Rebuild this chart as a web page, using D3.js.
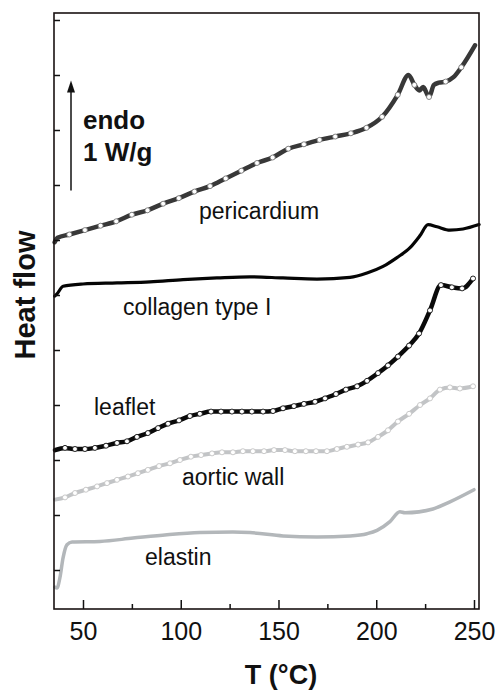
<!DOCTYPE html>
<html>
<head>
<meta charset="utf-8">
<script src="https://cdn.jsdelivr.net/npm/d3@7"></script>
<style>
  body { margin: 0; background: #fff; }
  svg text { font-family: "Liberation Sans", Arial, sans-serif; fill: #111; }
</style>
</head>
<body>
<div id="the_chart"></div>
<script>
// temperature axis (°C)
var tempTicks = [50, 100, 150, 200, 250];
var tempMinorTicks = [75, 125, 175, 225];
// heat flow axis (W/g, offset curves, unlabelled ticks)
var heatTicks = [0.5, 1, 1.5, 2, 2.5, 3, 3.5, 4, 4.5, 5, 5.5];

// [T, heat flow]
var pericardium = [
  [35.5, 3.48], [37, 3.52], [43, 3.55], [51, 3.59], [59, 3.63], [67, 3.67], [75, 3.73],
  [83, 3.77], [91, 3.83], [99, 3.88], [107, 3.94], [115, 3.99], [123, 4.06], [131, 4.13],
  [139, 4.20], [147, 4.25], [155, 4.33], [163, 4.37], [171, 4.41], [179, 4.44], [187, 4.47],
  [195, 4.52], [203, 4.62], [211, 4.82], [216.5, 5.00], [219.5, 4.91], [222, 4.86],
  [224, 4.89], [227, 4.80], [229.5, 4.91], [232, 4.93], [235.5, 4.94], [239.5, 4.98],
  [243.5, 5.07], [250.5, 5.27]
];
var pericardiumMarks = [43, 51, 59, 67, 75, 83, 91, 99, 107, 115, 123, 131, 139, 147, 155,
  163, 171, 179, 187, 195, 203, 211, 219.5, 227, 235.5, 243.5];

var collagen = [
  [35.5, 2.99], [36.7, 3.01], [39.8, 3.08], [50, 3.10], [67.4, 3.11], [84.3, 3.12],
  [101.2, 3.14], [118.5, 3.155], [135.4, 3.165], [152.3, 3.155], [169.7, 3.145],
  [186.6, 3.16], [195.3, 3.20], [203.5, 3.26], [210.6, 3.34], [217.3, 3.43], [222.4, 3.54],
  [226.5, 3.64], [231.1, 3.62], [237.7, 3.59], [244.4, 3.60], [252.6, 3.64]
];

var leaflet = [
  [35.7, 1.59], [40.8, 1.61], [45.9, 1.60], [51.0, 1.60], [56.1, 1.61], [61.8, 1.63],
  [67.4, 1.655], [72.5, 1.67], [77.6, 1.71], [83.2, 1.745], [88.4, 1.79], [93.5, 1.83],
  [99.1, 1.86], [104.7, 1.90], [109.8, 1.92], [115.5, 1.94], [120.6, 1.94], [126.2, 1.94],
  [131.3, 1.94], [136.4, 1.94], [142.1, 1.94], [147.2, 1.945], [152.3, 1.97], [157.9, 1.99],
  [163.0, 2.01], [168.7, 2.03], [173.8, 2.06], [179.4, 2.10], [184.5, 2.14], [190.2, 2.17],
  [195.3, 2.22], [200.9, 2.29], [206.0, 2.36], [211.1, 2.44], [216.8, 2.54], [221.9, 2.65],
  [227.5, 2.86], [233.1, 3.09], [238.7, 3.07], [243.9, 3.06], [249.5, 3.15]
];

var aorticWall = [
  [35.7, 1.14], [40.8, 1.16], [45.9, 1.20], [51.5, 1.23], [57.2, 1.26], [62.3, 1.29],
  [67.4, 1.32], [73.0, 1.35], [78.1, 1.38], [83.2, 1.41], [88.9, 1.445], [94.5, 1.47],
  [99.6, 1.50], [105.2, 1.53], [110.4, 1.545], [116.0, 1.56], [121.1, 1.57], [126.7, 1.57],
  [131.8, 1.58], [136.9, 1.58], [142.6, 1.58], [147.7, 1.59], [153.3, 1.59], [158.4, 1.58],
  [164.0, 1.58], [169.2, 1.58], [174.8, 1.58], [179.9, 1.60], [185.0, 1.62], [190.7, 1.64],
  [195.8, 1.66], [200.9, 1.71], [206.0, 1.77], [211.1, 1.85], [216.8, 1.92], [222.4, 2.00],
  [227.5, 2.06], [232.6, 2.14], [237.7, 2.16], [242.8, 2.15], [249.5, 2.17]
];

var elastin = [
  [35.7, 0.345], [36.7, 0.336], [38.2, 0.43], [39.8, 0.61], [41.8, 0.73], [44.4, 0.755],
  [58.7, 0.76], [75.6, 0.79], [93.0, 0.82], [109.8, 0.84], [126.7, 0.845], [135.4, 0.84],
  [152.3, 0.81], [169.7, 0.80], [186.6, 0.81], [195.3, 0.83], [200.4, 0.86], [207.0, 0.94],
  [212.1, 1.03], [214.7, 1.02], [229.0, 1.055], [237.7, 1.12], [250.0, 1.23]
];

var curveLabels = ["pericardium", "collagen type I", "leaflet", "aortic wall", "elastin"];

var w = 500;
var h = 691;
var padL = 54, padR = 479, padT = 13, padB = 609;

var svg = d3.select("#the_chart")
  .append("svg")
  .attr("width", w)
  .attr("height", h);

var xscale = d3.scaleLinear()
  .domain([35.17, 252.56])
  .range([padL, padR]);

var yscale = d3.scaleLinear()
  .domain([0.1455, 5.5636])
  .range([padB, padT]);

var line = d3.line()
  .x(function(d) { return xscale(d[0]); })
  .y(function(d) { return yscale(d[1]); })
  .curve(d3.curveMonotoneX);

// curves, bottom to top
var series = [
  { data: elastin, color: "#b3b7ba", width: 3.5, marks: [] },
  { data: aorticWall, color: "#c2c4c6", width: 4, marks: aorticWall.slice(1).map(function(d) { return d[0]; }), markStroke: "#c4c4c4" },
  { data: leaflet, color: "#0a0a0a", width: 4.5, marks: leaflet.slice(1).map(function(d) { return d[0]; }), markStroke: "#111" },
  { data: collagen, color: "#050505", width: 3.2, marks: [] },
  { data: pericardium, color: "#383838", width: 4.5, marks: pericardiumMarks, markStroke: "#7a7a7a" }
];

series.forEach(function(s) {
  svg.append("path")
    .datum(s.data)
    .attr("fill", "none")
    .attr("stroke", s.color)
    .attr("stroke-width", s.width)
    .attr("stroke-linejoin", "round")
    .attr("stroke-linecap", "round")
    .attr("d", line);

  svg.selectAll(null)
    .data(s.data.filter(function(d) { return s.marks.indexOf(d[0]) >= 0; }))
    .enter().append("circle")
    .attr("cx", function(d) { return xscale(d[0]); })
    .attr("cy", function(d) { return yscale(d[1]); })
    .attr("r", 2.5)
    .attr("fill", "#fff")
    .attr("stroke", s.markStroke)
    .attr("stroke-width", 0.9);
});

// axes
var xaxis = d3.axisBottom(xscale)
  .tickValues(tempTicks)
  .tickSize(-9)
  .tickPadding(13)
  .tickFormat(d3.format("d"));

var xminor = d3.axisBottom(xscale)
  .tickValues(tempMinorTicks)
  .tickSize(-5)
  .tickFormat("");

var yaxis = d3.axisLeft(yscale)
  .tickValues(heatTicks)
  .tickSize(-6)
  .tickFormat("");

var gx = svg.append("g")
  .attr("class", "x axis")
  .attr("transform", "translate(0," + padB + ")")
  .call(xaxis);
gx.selectAll("text")
  .attr("font-size", 25)
  .attr("fill", "#111");

svg.append("g")
  .attr("transform", "translate(0," + padB + ")")
  .call(xminor);

svg.append("g")
  .attr("class", "y axis")
  .attr("transform", "translate(" + padL + ",0)")
  .call(yaxis);

svg.selectAll(".domain").remove();
svg.selectAll(".tick line").attr("stroke", "#111").attr("stroke-width", 1.5);

// frame
svg.append("rect")
  .attr("x", padL)
  .attr("y", padT)
  .attr("width", padR - padL)
  .attr("height", padB - padT)
  .attr("fill", "none")
  .attr("stroke", "#1a1212")
  .attr("stroke-width", 1.6);

// axis titles
svg.append("text")
  .attr("x", 281)
  .attr("y", 684)
  .attr("text-anchor", "middle")
  .attr("font-size", 27)
  .attr("font-weight", "bold")
  .text("T (°C)");

svg.append("text")
  .attr("transform", "translate(35,295) rotate(-90)")
  .attr("text-anchor", "middle")
  .attr("font-size", 29)
  .attr("font-weight", "bold")
  .text("Heat flow");

// scale arrow
svg.append("line")
  .attr("x1", 71).attr("x2", 71)
  .attr("y1", yscale(3.95)).attr("y2", yscale(4.95) + 10)
  .attr("stroke", "#111")
  .attr("stroke-width", 1.5);
svg.append("path")
  .attr("d", "M71," + yscale(4.95) + " l-4,12 l8,0 z")
  .attr("fill", "#111");

svg.append("text")
  .attr("x", 83).attr("y", 129)
  .attr("font-size", 26).attr("font-weight", "bold")
  .text("endo");
svg.append("text")
  .attr("x", 83).attr("y", 161)
  .attr("font-size", 26).attr("font-weight", "bold")
  .text("1 W/g");

// curve labels
var labelPos = [[199, 219], [123, 315], [94, 415], [182, 485], [145, 565]];
svg.selectAll(".curve-label")
  .data(curveLabels)
  .enter().append("text")
  .attr("class", "curve-label")
  .attr("x", function(d, i) { return labelPos[i][0]; })
  .attr("y", function(d, i) { return labelPos[i][1]; })
  .attr("font-size", 23)
  .text(function(d) { return d; });
</script>
</body>
</html>
